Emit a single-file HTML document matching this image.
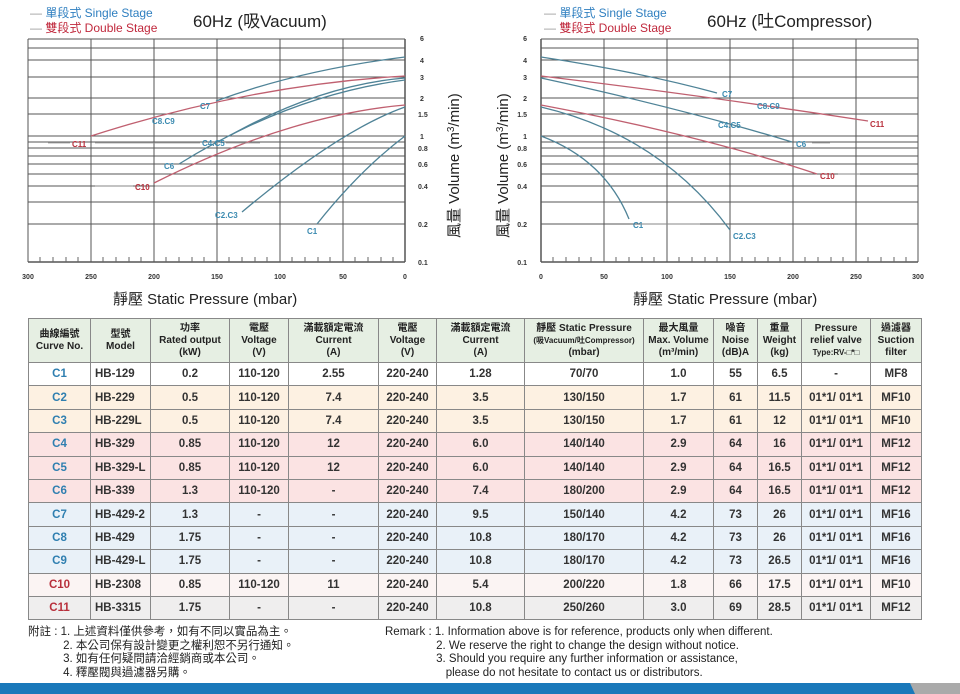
<!DOCTYPE html>
<html><head><meta charset="utf-8"><style>
body{margin:0;width:960px;height:694px;background:#fff;position:relative;overflow:hidden;font-family:"Liberation Sans","Noto Sans CJK TC",sans-serif}
svg{position:absolute;left:0;top:0}
table{position:absolute;left:28px;top:318px;border-collapse:collapse;table-layout:fixed;width:893px;font-family:"Liberation Sans","Noto Sans CJK TC",sans-serif}
td{border:1.5px solid #888;text-align:center;font-size:11.5px;font-weight:bold;color:#333;height:22.4px;padding:0;white-space:nowrap;overflow:hidden}
tr.h td{background:#e6efe3;font-size:10px;line-height:12px;height:43px;font-weight:bold;color:#222}
td.m{text-align:left;padding-left:4px}
.w td{background:#fff}.o td{background:#fdf1e2}.p td{background:#fbe3e3}.b td{background:#e9f1f8}.r td{background:#fbf4f3}.g td{background:#efeeee}
td.cb{color:#2f7fb0}td.cr{color:#b8303c}
.notes{position:absolute;font-size:11.5px;line-height:13.5px;color:#222}
</style></head><body>
<svg width="960" height="694" font-family="Liberation Sans, Noto Sans CJK TC, sans-serif">
<g stroke="#555" stroke-width="1">
<g id="gl">
<line x1="28" y1="39" x2="405" y2="39"/><line x1="28" y1="48" x2="405" y2="48"/><line x1="28" y1="60" x2="405" y2="60"/><line x1="28" y1="77" x2="405" y2="77"/><line x1="28" y1="98" x2="405" y2="98"/><line x1="28" y1="114" x2="405" y2="114"/><line x1="28" y1="136" x2="405" y2="136"/><line x1="28" y1="142" x2="405" y2="142"/><line x1="28" y1="148" x2="405" y2="148"/><line x1="28" y1="156" x2="405" y2="156"/><line x1="28" y1="164" x2="405" y2="164"/><line x1="28" y1="174" x2="405" y2="174"/><line x1="28" y1="186" x2="405" y2="186"/><line x1="28" y1="202" x2="405" y2="202"/><line x1="28" y1="224" x2="405" y2="224"/><line x1="28" y1="262" x2="405" y2="262" stroke-width="1.5"/>
<line x1="28" y1="39" x2="28" y2="262"/><line x1="91" y1="39" x2="91" y2="262"/><line x1="154" y1="39" x2="154" y2="262"/><line x1="217" y1="39" x2="217" y2="262"/><line x1="280" y1="39" x2="280" y2="262"/><line x1="343" y1="39" x2="343" y2="262"/><line x1="405" y1="39" x2="405" y2="262" stroke-width="1.5"/>
</g>
<g transform="translate(513,0)">
<line x1="28" y1="39" x2="405" y2="39"/><line x1="28" y1="48" x2="405" y2="48"/><line x1="28" y1="60" x2="405" y2="60"/><line x1="28" y1="77" x2="405" y2="77"/><line x1="28" y1="98" x2="405" y2="98"/><line x1="28" y1="114" x2="405" y2="114"/><line x1="28" y1="136" x2="405" y2="136"/><line x1="28" y1="142" x2="405" y2="142"/><line x1="28" y1="148" x2="405" y2="148"/><line x1="28" y1="156" x2="405" y2="156"/><line x1="28" y1="164" x2="405" y2="164"/><line x1="28" y1="174" x2="405" y2="174"/><line x1="28" y1="186" x2="405" y2="186"/><line x1="28" y1="202" x2="405" y2="202"/><line x1="28" y1="224" x2="405" y2="224"/><line x1="28" y1="262" x2="405" y2="262" stroke-width="1.5"/>
<line x1="28" y1="39" x2="28" y2="262" stroke-width="1.5"/><line x1="91" y1="39" x2="91" y2="262"/><line x1="154" y1="39" x2="154" y2="262"/><line x1="217" y1="39" x2="217" y2="262"/><line x1="280" y1="39" x2="280" y2="262"/><line x1="343" y1="39" x2="343" y2="262"/><line x1="405" y1="39" x2="405" y2="262"/>
</g>
</g>
<g stroke="#666" stroke-width="1">
<path d="M40 262v-5M53 262v-5M66 262v-5M78 262v-5M103 262v-5M116 262v-5M129 262v-5M141 262v-5M166 262v-5M179 262v-5M192 262v-5M204 262v-5M229 262v-5M242 262v-5M255 262v-5M267 262v-5M292 262v-5M305 262v-5M318 262v-5M330 262v-5M355 262v-5M368 262v-5M381 262v-5M393 262v-5"/>
<path d="M553 262v-5M566 262v-5M579 262v-5M591 262v-5M616 262v-5M629 262v-5M642 262v-5M654 262v-5M679 262v-5M692 262v-5M705 262v-5M717 262v-5M742 262v-5M755 262v-5M768 262v-5M780 262v-5M805 262v-5M818 262v-5M831 262v-5M843 262v-5M868 262v-5M881 262v-5M894 262v-5M906 262v-5"/>
</g>
<g fill="none" stroke-width="1.3">
<path d="M216,101 Q300,70 405,57" stroke="#4f8397"/>
<path d="M91,136 Q250,85 405,76" stroke="#c06070"/>
<path d="M229,136 Q320,85 405,78" stroke="#4f8397"/>
<path d="M179,164 Q290,95 405,80" stroke="#4f8397"/>
<path d="M154,183 Q290,115 405,105" stroke="#c06070"/>
<path d="M242,212 Q340,130 405,107" stroke="#4f8397"/>
<path d="M317,224 Q360,170 405,136" stroke="#4f8397"/>
<path d="M541,57 Q640,72 717,93" stroke="#4f8397"/>
<path d="M541,76 Q700,95 868,121" stroke="#c06070"/>
<path d="M541,78 Q680,108 792,142" stroke="#4f8397"/>
<path d="M541,105 Q700,135 817,174" stroke="#c06070"/>
<path d="M541,107 Q660,135 730,230" stroke="#4f8397"/>
<path d="M541,136 Q605,160 629,219" stroke="#4f8397"/>
</g>
<g font-size="8" font-weight="bold">
<text x="200" y="109" fill="#3a8ab0">C7</text>
<text x="152" y="124" fill="#3a8ab0">C8.C9</text>
<text x="72" y="147" fill="#b8303c">C11</text>
<text x="202" y="146" fill="#3a8ab0">C4.C5</text>
<text x="164" y="169" fill="#3a8ab0">C6</text>
<text x="135" y="190" fill="#b8303c">C10</text>
<text x="215" y="218" fill="#3a8ab0">C2.C3</text>
<text x="307" y="234" fill="#3a8ab0">C1</text>
<text x="722" y="97" fill="#3a8ab0">C7</text>
<text x="757" y="109" fill="#3a8ab0">C8.C9</text>
<text x="870" y="127" fill="#b8303c">C11</text>
<text x="718" y="128" fill="#3a8ab0">C4.C5</text>
<text x="796" y="147" fill="#3a8ab0">C6</text>
<text x="820" y="179" fill="#b8303c">C10</text>
<text x="733" y="239" fill="#3a8ab0">C2.C3</text>
<text x="633" y="228" fill="#3a8ab0">C1</text>
</g>
<g stroke="#999" stroke-width="0.8">
<line x1="48" y1="143" x2="70" y2="143"/><line x1="95" y1="143" x2="200" y2="143"/><line x1="226" y1="143" x2="260" y2="143"/>
<line x1="95" y1="186" x2="133" y2="186"/><line x1="155" y1="186" x2="260" y2="186"/>
<line x1="640" y1="224" x2="700" y2="224"/><line x1="812" y1="143" x2="830" y2="143"/><line x1="838" y1="174" x2="860" y2="174"/>
</g>
<g font-size="7" font-weight="bold" fill="#333">
<text x="420" y="41">6</text><text x="420" y="63">4</text><text x="420" y="80">3</text><text x="420" y="101">2</text><text x="418" y="117">1.5</text><text x="420" y="139">1</text><text x="418" y="151">0.8</text><text x="418" y="167">0.6</text><text x="418" y="189">0.4</text><text x="418" y="227">0.2</text><text x="418" y="265">0.1</text>
<text x="527" y="41" text-anchor="end">6</text><text x="527" y="63" text-anchor="end">4</text><text x="527" y="80" text-anchor="end">3</text><text x="527" y="101" text-anchor="end">2</text><text x="527" y="117" text-anchor="end">1.5</text><text x="527" y="139" text-anchor="end">1</text><text x="527" y="151" text-anchor="end">0.8</text><text x="527" y="167" text-anchor="end">0.6</text><text x="527" y="189" text-anchor="end">0.4</text><text x="527" y="227" text-anchor="end">0.2</text><text x="527" y="265" text-anchor="end">0.1</text>
<g text-anchor="middle">
<text x="28" y="279">300</text><text x="91" y="279">250</text><text x="154" y="279">200</text><text x="217" y="279">150</text><text x="280" y="279">100</text><text x="343" y="279">50</text><text x="405" y="279">0</text>
<text x="541" y="279">0</text><text x="604" y="279">50</text><text x="667" y="279">100</text><text x="730" y="279">150</text><text x="793" y="279">200</text><text x="856" y="279">250</text><text x="918" y="279">300</text>
</g></g>
<g font-size="12">
<text x="30" y="17" fill="#2f7fc0"><tspan fill="#999">— </tspan>單段式 Single Stage</text>
<text x="30" y="32" fill="#c0283c"><tspan fill="#999">— </tspan>雙段式 Double Stage</text>
<text x="544" y="17" fill="#2f7fc0"><tspan fill="#999">— </tspan>單段式 Single Stage</text>
<text x="544" y="32" fill="#c0283c"><tspan fill="#999">— </tspan>雙段式 Double Stage</text>
</g>
<text x="193" y="27" font-size="17" fill="#222">60Hz (吸Vacuum)</text>
<text x="707" y="27" font-size="17" fill="#222">60Hz (吐Compressor)</text>
<text x="113" y="304" font-size="15" fill="#222">靜壓 Static Pressure (mbar)</text>
<text x="633" y="304" font-size="15" fill="#222">靜壓 Static Pressure (mbar)</text>
<text transform="translate(459,238) rotate(-90)" font-size="15" fill="#222">風量 Volume (m<tspan font-size="10" dy="-5">3</tspan><tspan dy="5">/min)</tspan></text>
<text transform="translate(508,238) rotate(-90)" font-size="15" fill="#222">風量 Volume (m<tspan font-size="10" dy="-5">3</tspan><tspan dy="5">/min)</tspan></text>
<rect x="0" y="683" width="960" height="11" fill="#1a78ba"/>
<polygon points="910,683 960,683 960,694 915,694" fill="#aaa"/>
</svg>
<table>
<colgroup><col style="width:62px"><col style="width:60px"><col style="width:79px"><col style="width:59px"><col style="width:90px"><col style="width:58px"><col style="width:88px"><col style="width:119px"><col style="width:70px"><col style="width:44px"><col style="width:44px"><col style="width:69px"><col style="width:51px"></colgroup>
<tr class="h"><td>曲線編號<br>Curve No.</td><td>型號<br>Model</td><td>功率<br>Rated output<br>(kW)</td><td>電壓<br>Voltage<br>(V)</td><td>滿載額定電流<br>Current<br>(A)</td><td>電壓<br>Voltage<br>(V)</td><td>滿載額定電流<br>Current<br>(A)</td><td>靜壓 Static Pressure<br><span style="font-size:8px">(吸Vacuum/吐Compressor)</span><br>(mbar)</td><td>最大風量<br>Max. Volume<br>(m³/min)</td><td>噪音<br>Noise<br>(dB)A</td><td>重量<br>Weight<br>(kg)</td><td>Pressure<br>relief valve<br><span style="font-size:8px">Type:RV-□*□</span></td><td>過濾器<br>Suction<br>filter</td></tr>
<tr class="w"><td class="cb">C1</td><td class="m">HB-129</td><td>0.2</td><td>110-120</td><td>2.55</td><td>220-240</td><td>1.28</td><td>70/70</td><td>1.0</td><td>55</td><td>6.5</td><td>-</td><td>MF8</td></tr>
<tr class="o"><td class="cb">C2</td><td class="m">HB-229</td><td>0.5</td><td>110-120</td><td>7.4</td><td>220-240</td><td>3.5</td><td>130/150</td><td>1.7</td><td>61</td><td>11.5</td><td>01*1/ 01*1</td><td>MF10</td></tr>
<tr class="o"><td class="cb">C3</td><td class="m">HB-229L</td><td>0.5</td><td>110-120</td><td>7.4</td><td>220-240</td><td>3.5</td><td>130/150</td><td>1.7</td><td>61</td><td>12</td><td>01*1/ 01*1</td><td>MF10</td></tr>
<tr class="p"><td class="cb">C4</td><td class="m">HB-329</td><td>0.85</td><td>110-120</td><td>12</td><td>220-240</td><td>6.0</td><td>140/140</td><td>2.9</td><td>64</td><td>16</td><td>01*1/ 01*1</td><td>MF12</td></tr>
<tr class="p"><td class="cb">C5</td><td class="m">HB-329-L</td><td>0.85</td><td>110-120</td><td>12</td><td>220-240</td><td>6.0</td><td>140/140</td><td>2.9</td><td>64</td><td>16.5</td><td>01*1/ 01*1</td><td>MF12</td></tr>
<tr class="p"><td class="cb">C6</td><td class="m">HB-339</td><td>1.3</td><td>110-120</td><td>-</td><td>220-240</td><td>7.4</td><td>180/200</td><td>2.9</td><td>64</td><td>16.5</td><td>01*1/ 01*1</td><td>MF12</td></tr>
<tr class="b"><td class="cb">C7</td><td class="m">HB-429-2</td><td>1.3</td><td>-</td><td>-</td><td>220-240</td><td>9.5</td><td>150/140</td><td>4.2</td><td>73</td><td>26</td><td>01*1/ 01*1</td><td>MF16</td></tr>
<tr class="b"><td class="cb">C8</td><td class="m">HB-429</td><td>1.75</td><td>-</td><td>-</td><td>220-240</td><td>10.8</td><td>180/170</td><td>4.2</td><td>73</td><td>26</td><td>01*1/ 01*1</td><td>MF16</td></tr>
<tr class="b"><td class="cb">C9</td><td class="m">HB-429-L</td><td>1.75</td><td>-</td><td>-</td><td>220-240</td><td>10.8</td><td>180/170</td><td>4.2</td><td>73</td><td>26.5</td><td>01*1/ 01*1</td><td>MF16</td></tr>
<tr class="r"><td class="cr">C10</td><td class="m">HB-2308</td><td>0.85</td><td>110-120</td><td>11</td><td>220-240</td><td>5.4</td><td>200/220</td><td>1.8</td><td>66</td><td>17.5</td><td>01*1/ 01*1</td><td>MF10</td></tr>
<tr class="g"><td class="cr">C11</td><td class="m">HB-3315</td><td>1.75</td><td>-</td><td>-</td><td>220-240</td><td>10.8</td><td>250/260</td><td>3.0</td><td>69</td><td>28.5</td><td>01*1/ 01*1</td><td>MF12</td></tr>
</table>
<div class="notes" style="left:28px;top:626px">附註 : 1. 上述資料僅供參考，如有不同以實品為主。<br>&nbsp;&nbsp;&nbsp;&nbsp;&nbsp;&nbsp;&nbsp;&nbsp;&nbsp;&nbsp;&nbsp;2. 本公司保有設計變更之權利恕不另行通知。<br>&nbsp;&nbsp;&nbsp;&nbsp;&nbsp;&nbsp;&nbsp;&nbsp;&nbsp;&nbsp;&nbsp;3. 如有任何疑問請洽經銷商或本公司。<br>&nbsp;&nbsp;&nbsp;&nbsp;&nbsp;&nbsp;&nbsp;&nbsp;&nbsp;&nbsp;&nbsp;4. 釋壓閥與過濾器另購。</div>
<div class="notes" style="left:385px;top:626px">Remark : 1. Information above is for reference, products only when different.<br>&nbsp;&nbsp;&nbsp;&nbsp;&nbsp;&nbsp;&nbsp;&nbsp;&nbsp;&nbsp;&nbsp;&nbsp;&nbsp;&nbsp;&nbsp;&nbsp;2. We reserve the right to change the design without notice.<br>&nbsp;&nbsp;&nbsp;&nbsp;&nbsp;&nbsp;&nbsp;&nbsp;&nbsp;&nbsp;&nbsp;&nbsp;&nbsp;&nbsp;&nbsp;&nbsp;3. Should you require any further information or assistance,<br>&nbsp;&nbsp;&nbsp;&nbsp;&nbsp;&nbsp;&nbsp;&nbsp;&nbsp;&nbsp;&nbsp;&nbsp;&nbsp;&nbsp;&nbsp;&nbsp;&nbsp;&nbsp;&nbsp;please do not hesitate to contact us or distributors.</div>
</body></html>
